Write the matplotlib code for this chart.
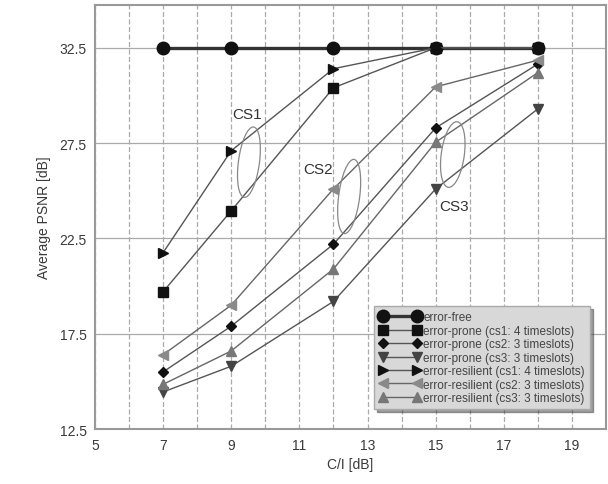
import matplotlib
matplotlib.use("Agg")
import matplotlib.pyplot as plt
from matplotlib.patches import Ellipse

plt.rcParams['font.family'] = ['Liberation Sans', 'DejaVu Sans']

ci = [7, 9, 12, 15, 18]
error_free = [32.5, 32.5, 32.5, 32.5, 32.5]
prone_cs1 = [19.7, 23.95, 30.4, 32.5, 32.5]
prone_cs2 = [15.5, 17.9, 22.2, 28.3, 31.65]
prone_cs3 = [14.45, 15.8, 19.2, 25.1, 29.3]
res_cs1 = [21.75, 27.1, 31.4, 32.5, 32.5]
res_cs2 = [16.4, 19.0, 25.1, 30.45, 31.85]
res_cs3 = [14.85, 16.6, 20.9, 27.55, 31.2]

labels = ["error-free",
          "error-prone (cs1: 4 timeslots)",
          "error-prone (cs2: 3 timeslots)",
          "error-prone (cs3: 3 timeslots)",
          "error-resilient (cs1: 4 timeslots)",
          "error-resilient (cs2: 3 timeslots)",
          "error-resilient (cs3: 3 timeslots)"]

x_ticks = [5, 7, 9, 11, 13, 15, 17, 19]
y_ticks = [12.5, 17.5, 22.5, 27.5, 32.5]

fig = plt.figure(figsize=(6.08, 4.85), dpi=100)
ax = fig.add_axes([0.156, 0.113, 0.841, 0.875])

series = [
    (error_free, 'o', 9, '#111111', '#333333', 2.4),
    (prone_cs1, 's', 7, '#111111', '#555555', 1.0),
    (prone_cs2, 'D', 5, '#111111', '#555555', 1.0),
    (prone_cs3, 'v', 7, '#444444', '#555555', 1.0),
    (res_cs1, '>', 7, '#111111', '#555555', 1.0),
    (res_cs2, '<', 7, '#8a8a8a', '#666666', 1.0),
    (res_cs3, '^', 7, '#777777', '#666666', 1.0),
]
handles = []
for (vals, m, ms, mc, lc, lw), lab in zip(series, labels):
    h, = ax.plot(ci, vals, color=lc, lw=lw, marker=m, markersize=ms,
                 markerfacecolor=mc, markeredgecolor=mc, label=lab, zorder=3)
    handles.append(h)

ax.set_xlim(5, 20)
ax.set_ylim(12.5, 34.75)
ax.set_xticks(x_ticks)
ax.set_xticks(range(6, 21, 2), minor=True)
ax.set_yticks(y_ticks)
ax.set_yticklabels([str(v) for v in y_ticks])
ax.grid(True, which='major', axis='x', color='#aaaaaa', ls=(0, (4, 2)), lw=0.9)
ax.grid(True, which='minor', axis='x', color='#aaaaaa', ls=(0, (4, 2)), lw=0.9)
ax.grid(True, which='major', axis='y', color='#aaaaaa', ls='-', lw=0.9)
ax.tick_params(which='both', length=0, labelsize=10, colors='#3a3a3a', pad=6)
for s in ax.spines.values():
    s.set_color('#999999')
    s.set_linewidth(1.5)

ax.set_xlabel('C/I [dB]', fontsize=10, color='#3a3a3a', labelpad=4)
ax.set_ylabel('Average PSNR [dB]', fontsize=10, color='#3a3a3a', labelpad=6)

# annotations
for (cx, cy, w, h, ang) in [(9.52, 26.5, 0.62, 3.7, -4), (12.46, 24.7, 0.62, 3.9, -4), (15.5, 26.9, 0.68, 3.45, -4)]:
    ax.add_patch(Ellipse((cx, cy), w, h, angle=ang, fill=False, ec='#888888', lw=0.9, zorder=4))
ax.text(9.47, 29.0, 'CS1', fontsize=11, color='#333333', ha='center', va='center')
ax.text(11.56, 26.15, 'CS2', fontsize=11, color='#333333', ha='center', va='center')
ax.text(15.55, 24.2, 'CS3', fontsize=11, color='#333333', ha='center', va='center')

leg = ax.legend(handles=handles, loc='lower right', bbox_to_anchor=(0.969, 0.047),
                fontsize=8.5, numpoints=2, handlelength=3.55, handletextpad=0.2,
                labelspacing=0.12, borderpad=0.45, fancybox=False, shadow=True,
                framealpha=1, borderaxespad=0)
leg.get_frame().set_facecolor('#d8d8d8')
leg.get_frame().set_edgecolor('#aaaaaa')
for t in leg.get_texts():
    t.set_color('#444444')

fig.savefig('out.png', dpi=100)
